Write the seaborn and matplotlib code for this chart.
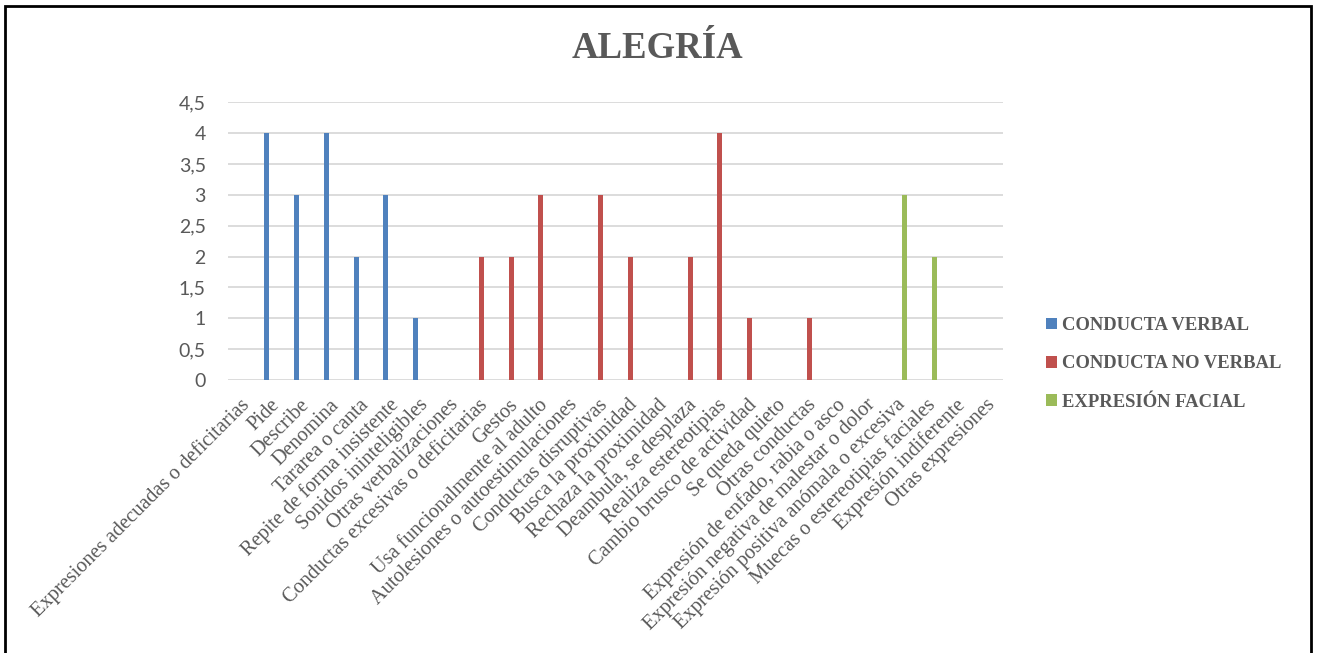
import numpy as np
import pandas as pd
import matplotlib
matplotlib.use("Agg")
import matplotlib.pyplot as plt
import matplotlib.transforms as mtransforms
import seaborn as sns
from matplotlib.patches import Rectangle

categories = [
    "Expresiones adecuadas o deficitarias", "Pide", "Describe", "Denomina",
    "Tararea o canta", "Repite de forma insistente", "Sonidos ininteligibles",
    "Otras verbalizaciones", "Conductas excesivas o deficitarias", "Gestos",
    "Usa funcionalmente al adulto", "Autolesiones o autoestimulaciones",
    "Conductas disruptivas", "Busca la proximidad", "Rechaza la proximidad",
    "Deambula, se desplaza", "Realiza estereotipias", "Cambio brusco de actividad",
    "Se queda quieto", "Otras conductas", "Expresión de enfado, rabia o asco",
    "Expresión negativa de malestar o dolor", "Expresión positiva anómala o excesiva",
    "Muecas o estereotipias faciales", "Expresión indiferente", "Otras expresiones",
]
series_names = ["CONDUCTA VERBAL", "CONDUCTA NO VERBAL", "EXPRESIÓN FACIAL"]
verbal = [0, 4, 3, 4, 2, 3, 1, 0,
          0, 0, 0, 0, 0, 0, 0, 0, 0, 0, 0, 0,
          0, 0, 0, 0, 0, 0]
no_verbal = [0, 0, 0, 0, 0, 0, 0, 0,
             2, 2, 3, 0, 3, 2, 0, 2, 4, 1, 0, 1,
             0, 0, 0, 0, 0, 0]
facial = [0, 0, 0, 0, 0, 0, 0, 0,
          0, 0, 0, 0, 0, 0, 0, 0, 0, 0, 0, 0,
          0, 0, 3, 2, 0, 0]
y_ticks = [0, 0.5, 1, 1.5, 2, 2.5, 3, 3.5, 4, 4.5]
colors = ["#4F81BD", "#C0504D", "#9BBB59"]

df = pd.DataFrame({
    "categoria": categories * 3,
    "serie": np.repeat(series_names, len(categories)),
    "valor": verbal + no_verbal + facial,
})

sns.set_style("white")
W, H = 1317, 653
fig = plt.figure(figsize=(W / 100, H / 100), dpi=100)
ax = fig.add_axes([228 / W, 1 - 380 / H, (1003 - 228) / W, (380 - 102.3) / H])

sns.barplot(data=df, x="categoria", y="valor", hue="serie", order=categories,
            hue_order=series_names, palette=colors, saturation=1,
            width=0.6, gap=0.16, linewidth=0, errorbar=None, ax=ax)

ax.set_xlim(-0.5, len(categories) - 0.5)
ax.set_ylim(0, 4.5)
ax.set_xlabel("")
ax.set_ylabel("")
for s in ax.spines.values():
    s.set_visible(False)
ax.yaxis.grid(True, color="#D9D9D9", linewidth=1.3)
ax.set_axisbelow(True)
ax.tick_params(axis="both", length=0)

ax.set_yticks(y_ticks)
ax.set_yticklabels([f"{v:g}".replace(".", ",") for v in y_ticks],
                   fontfamily="Lato", fontsize=14, color="#595959")
ax.tick_params(axis="y", pad=16)

ax.set_xticks(range(len(categories)))
ax.set_xticklabels(categories, rotation=45, ha="right", va="center",
                   rotation_mode="anchor", fontfamily="Liberation Serif",
                   fontsize=14.7, color="#595959")
ax.tick_params(axis="x", pad=16)
shift = mtransforms.ScaledTranslation(4 / 100, 0, fig.dpi_scale_trans)
for lab in ax.get_xticklabels():
    lab.set_transform(lab.get_transform() + shift)

fig.text(0.4992, 1 - 48 / H, "ALEGRÍA", ha="center", va="center",
         fontfamily="Liberation Serif", fontweight="bold", fontsize=26.5,
         color="#595959")

sns.move_legend(ax, "center left", bbox_to_anchor=(1029 / W, 1 - 364 / H),
                bbox_transform=fig.transFigure, frameon=False, title=None,
                handlelength=0.6, handleheight=0.6, handletextpad=0.3,
                labelspacing=1.15,
                prop={"family": "Liberation Serif", "weight": "bold", "size": 13.4})
for t in ax.get_legend().get_texts():
    t.set_color("#595959")

fig.patches.append(Rectangle((5 / W, -0.05), (1311 - 5) / W, 1.05 - 6 / H,
                             transform=fig.transFigure, fill=False,
                             edgecolor="black", linewidth=2, clip_on=False))

fig.savefig("out.png", dpi=100, facecolor="white")
